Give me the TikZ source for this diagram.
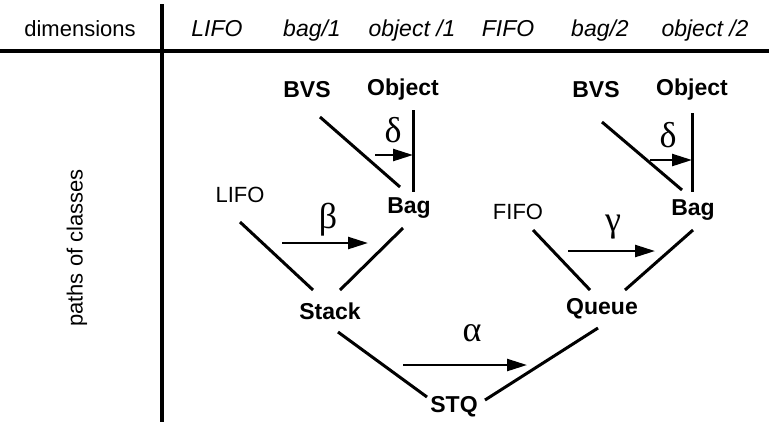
\documentclass[tikz,border=0pt]{standalone}
\usepackage{fontspec}
\setmainfont{Liberation Sans}
\newfontfamily\greekfont{Liberation Serif}
\usetikzlibrary{arrows.meta}

\begin{document}
\begin{tikzpicture}[
  x=0.5pt, y=-0.5pt,
  head/.style={font=\fontsize{11.5}{13}\selectfont\itshape, inner sep=0pt, anchor=base},
  cls/.style={font=\fontsize{11.5}{13}\selectfont\bfseries, inner sep=1pt},
  plain/.style={font=\fontsize{11}{13}\selectfont, inner sep=1pt},
  edge/.style={line width=1.5pt},
  rule/.style={line width=1.6pt},
  arrow/.style={-{Triangle[length=10pt, width=6pt]}, line width=1.2pt},
  greek/.style={font=\fontsize{18}{20}\selectfont\greekfont, inner sep=0pt},
]
\useasboundingbox (0,0) rectangle (769,425);
% table frame
\node[plain, anchor=base] (dim) at (80,36) {dimensions};
\node[head]   (hlifo) at (217,36) {LIFO};
\node[head]   (hbag1) at (312,36) {bag/1};
\node[head]   (hobj1) at (412,36) {object /1};
\node[head]   (hfifo) at (508,36) {FIFO};
\node[head]   (hbag2) at (600,36) {bag/2};
\node[head]   (hobj2) at (705,36) {object /2};
\node[plain, rotate=90] (paths) at (77,248) {paths of classes};
\coordinate (hl) at (0,51);
\coordinate (hr) at (769,51);
\coordinate (vt) at (162,4);
\coordinate (vb) at (162,422);
\draw[rule] (hl) -- (hr);
\draw[rule] (vt) -- (vb);

% classes
\node[cls]   (bvsA)  at (307,90)  {BVS};
\node[cls]   (objA)  at (403,90)  {Object};
\node[cls]   (bagA)  at (409,208) {Bag};
\node[plain] (lifo)  at (240,195) {LIFO};
\node[cls]   (stack) at (330,311) {Stack};
\node[cls]   (bvsB)  at (596,90)  {BVS};
\node[cls]   (objB)  at (692,90)  {Object};
\node[cls]   (bagB)  at (693,210) {Bag};
\node[plain] (fifo)  at (518,212) {FIFO};
\node[cls]   (queue) at (602,309) {Queue};
\node[cls]   (stq)   at (454,407) {STQ};

% paths
\draw[edge] ([shift={(13,27)}]bvsA.center) -- ([shift={(-9,-21)}]bagA.center);
\draw[edge] ([shift={(10,20)}]objA.center) -- ([shift={(4,-16)}]bagA.center);
\draw[edge] ([shift={(0,27)}]lifo.center) -- ([shift={(-17,-21)}]stack.center);
\draw[edge] ([shift={(-6,20)}]bagA.center) -- ([shift={(10,-21)}]stack.center);
\draw[edge] ([shift={(6,32)}]bvsB.center) -- ([shift={(-11,-20)}]bagB.center);
\draw[edge] ([shift={(0,23)}]objB.center) -- ([shift={(-1,-18)}]bagB.center);
\draw[edge] ([shift={(15,18)}]fifo.center) -- ([shift={(-12,-19)}]queue.center);
\draw[edge] ([shift={(0,20)}]bagB.center) -- ([shift={(23,-19)}]queue.center);
\draw[edge] ([shift={(8,21)}]stack.center) -- ([shift={(-27,-10)}]stq.center);
\draw[edge] ([shift={(31,-7)}]stq.center) -- ([shift={(-4,19)}]queue.center);

% morphisms
\node[greek] (delA) at (393,130) {δ};
\node[greek] (betA) at (328,220) {β};
\node[greek] (delB) at (668,135) {δ};
\node[greek] (gamB) at (613,227) {γ};
\node[greek] (alph) at (472,333) {α};
\draw[arrow] ([shift={(-18,25)}]delA.center) -- ([shift={(20,25)}]delA.center);
\draw[arrow] ([shift={(-46,23)}]betA.center) -- ([shift={(40,23)}]betA.center);
\draw[arrow] ([shift={(-18,25)}]delB.center) -- ([shift={(24,25)}]delB.center);
\draw[arrow] ([shift={(-45,24)}]gamB.center) -- ([shift={(42,24)}]gamB.center);
\draw[arrow] ([shift={(-69,32)}]alph.center) -- ([shift={(55,32)}]alph.center);
\end{tikzpicture}
\end{document}
